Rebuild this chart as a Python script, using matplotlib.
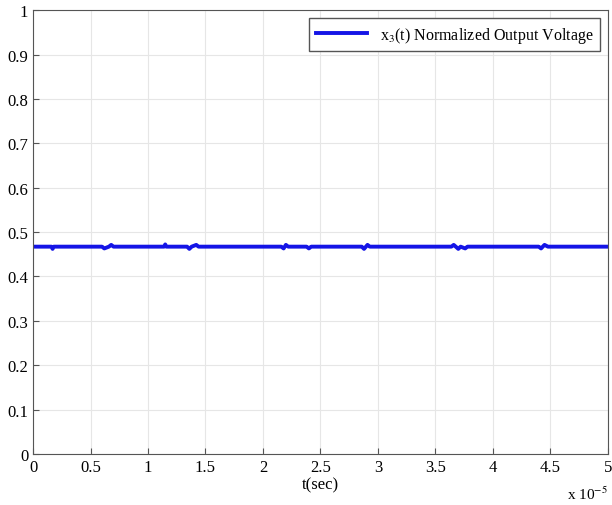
import numpy as np
import matplotlib.pyplot as plt
from matplotlib.ticker import ScalarFormatter

plt.rcParams['font.family'] = ['Liberation Serif', 'DejaVu Serif']
plt.rcParams['mathtext.fontset'] = 'stix'

# sampled output (time in s, normalized voltage)
t = [0.0, 0.16e-5, 0.17e-5, 0.18e-5, 0.60e-5, 0.62e-5, 0.66e-5, 0.68e-5, 0.70e-5,
     1.14e-5, 1.15e-5, 1.16e-5, 1.34e-5, 1.36e-5, 1.38e-5, 1.42e-5, 1.44e-5,
     2.16e-5, 2.18e-5, 2.20e-5, 2.22e-5, 2.38e-5, 2.40e-5, 2.42e-5, 2.86e-5, 2.88e-5,
     2.91e-5, 2.93e-5, 3.64e-5, 3.66e-5, 3.70e-5, 3.72e-5, 3.76e-5, 3.78e-5,
     4.40e-5, 4.42e-5, 4.45e-5, 4.48e-5, 5.0e-5]
x3 = [0.467, 0.467, 0.462, 0.467, 0.467, 0.463, 0.467, 0.471, 0.467,
      0.467, 0.472, 0.467, 0.467, 0.462, 0.467, 0.471, 0.467,
      0.467, 0.463, 0.471, 0.467, 0.467, 0.463, 0.467, 0.467, 0.462,
      0.471, 0.467, 0.467, 0.471, 0.462, 0.467, 0.463, 0.467,
      0.467, 0.463, 0.471, 0.467, 0.467]

fig = plt.figure(figsize=(6.12, 5.06), dpi=100)
ax = fig.add_axes([0.054, 0.101, 0.939, 0.877])

ax.plot(t, x3, color='#1414e6', lw=2.8, label=r'x$_3$(t) Normalized Output Voltage')

ax.set_xlim(0, 5e-5)
ax.set_ylim(0, 1)
ax.set_xticks(np.arange(0, 5.01e-5, 0.5e-5))
ax.set_yticks(np.arange(0, 1.01, 0.1))
fmt = ScalarFormatter(useMathText=False)
fmt.set_powerlimits((0, 0))
ax.xaxis.set_major_formatter(fmt)
ax.xaxis.get_offset_text().set_visible(False)
ax.set_xticklabels(['0', '0.5', '1', '1.5', '2', '2.5', '3', '3.5', '4', '4.5', '5'])
ax.set_yticklabels(['0', '0.1', '0.2', '0.3', '0.4', '0.5', '0.6', '0.7', '0.8', '0.9', '1'])
ax.text(1.0, -0.07, r'x 10$^{-5}$', transform=ax.transAxes, ha='right', va='top', fontsize=11)

ax.grid(True, color='#e6e6e6', lw=0.8)
ax.tick_params(direction='in', labelsize=12, color='#555555', length=4)
for s in ax.spines.values():
    s.set_color('#555555')

ax.set_xlabel('t(sec)', fontsize=12, labelpad=1)

leg = ax.legend(loc='upper right', fontsize=11.5, fancybox=False, framealpha=1,
                edgecolor='#555555', handlelength=3.2, borderaxespad=0.5)
leg.get_frame().set_linewidth(1)

fig.savefig('out.png', dpi=100)
